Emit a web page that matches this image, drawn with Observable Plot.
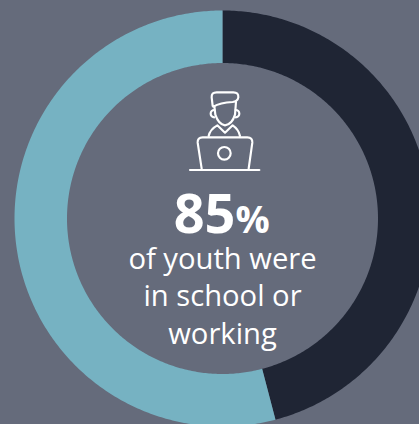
<!DOCTYPE html>
<html>
<head>
<meta charset="utf-8">
<script src="https://cdn.jsdelivr.net/npm/d3@7"></script>
<script src="https://cdn.jsdelivr.net/npm/@observablehq/plot@0.6"></script>
<style>
  html, body { margin: 0; padding: 0; background: #656b7b; overflow: hidden; }
  svg { display: block; }
</style>
</head>
<body>
<script>
// Ring segments, clockwise from twelve o'clock
const segments = ["other", "in school or working"];
const shares = [45.9, 54.1];
const segmentColors = ["#1f2534", "#76b2c2"];

const headline = "85";
const headlineUnit = "%";
const captionLines = ["of youth were", "in school or", "working"];

const innerRatio = 155.5 / 208;

// Trace each segment as a closed band between the inner and outer radius
const pie = d3.pie().sort(null).value(d => d)(shares);
const ring = pie.flatMap((slice, i) => {
  const steps = Math.ceil((slice.endAngle - slice.startAngle) * 90);
  const angles = d3.range(steps + 1).map(k => slice.startAngle + (slice.endAngle - slice.startAngle) * k / steps);
  const edge = (a, r) => ({segment: segments[i], x: r * Math.sin(a), y: r * Math.cos(a)});
  return [
    ...angles.map(a => edge(a, 1)),
    ...angles.slice().reverse().map(a => edge(a, innerRatio))
  ];
});

// Outline drawing of a student at a laptop
function studentIcon() {
  const g = d3.create("svg:g")
    .attr("transform", "translate(170,80) scale(0.3333)")
    .attr("fill", "none")
    .attr("stroke", "#ffffff")
    .attr("stroke-width", 6.5)
    .attr("stroke-linecap", "round")
    .attr("stroke-linejoin", "round");
  const paths = [
    "M128 78 L125 52 Q124 37 140 37 L190 37 Q206 37 205 52 Q203 64 188 66 Q150 68 130 80",
    "M133 78 L136 104 Q146 134 165 136 Q186 134 195 104 L198 66",
    "M133 90 A10.5 10.5 0 1 0 133 112",
    "M197 90 A10.5 10.5 0 1 1 197 112",
    "M116 168 Q120 148 142 136 L165 158 L188 136 Q206 148 210 168",
    "M95 266 L83 188 Q82 172 98 172 L232 172 Q248 172 247 188 L236 266",
    "M60 270 L268 270"
  ];
  paths.forEach(d => g.append("path").attr("d", d));
  g.append("circle").attr("cx", 163).attr("cy", 220).attr("r", 19);
  return g.node();
}

const chart = Plot.plot({
  width: 419,
  height: 424,
  margin: 0,
  style: {background: "#656b7b", fontFamily: "'Open Sans', sans-serif"},
  x: {domain: [-222 / 208, 197 / 208], range: [0, 419], axis: null},
  y: {domain: [218 / 208, -206 / 208], range: [0, 424], axis: null},
  color: {domain: segments, range: segmentColors},
  marks: [
    Plot.line(ring, {x: "x", y: "y", z: "segment", fill: "segment", stroke: null, curve: "linear-closed"}),
    studentIcon,
    Plot.text([headline], {
      x: () => 0, y: () => 0, text: d => d,
      textAnchor: "end", lineAnchor: "bottom", dx: 13, dy: 14,
      fontSize: 54, fontWeight: 700, fill: "#ffffff"
    }),
    Plot.text([headlineUnit], {
      x: () => 0, y: () => 0, text: d => d,
      textAnchor: "start", lineAnchor: "bottom", dx: 13, dy: 14,
      fontSize: 38, fontWeight: 700, fill: "#ffffff"
    }),
    // Caption lines stacked below the headline, one mark per line
    ...captionLines.map((line, i) => Plot.text([line], {
      x: () => 0, y: () => 0, text: d => d,
      dy: 50 + i * 37.5,
      fontSize: 29.2, fontWeight: 400, fill: "#ffffff",
      lineAnchor: "bottom"
    }))
  ]
});
document.body.append(chart);
</script>
</body>
</html>
